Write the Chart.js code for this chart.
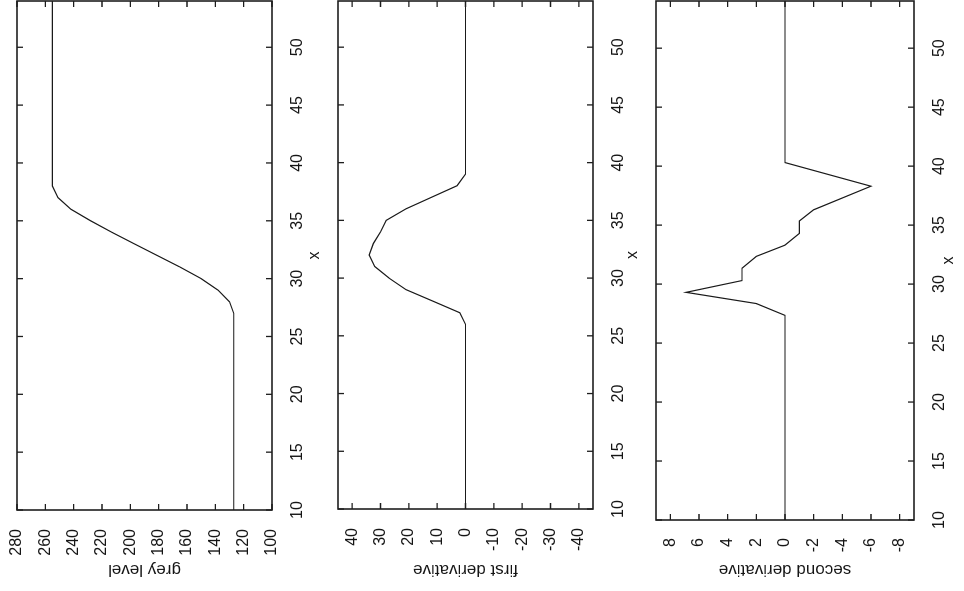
<!DOCTYPE html>
<html>
<head>
<meta charset="utf-8">
<script src="https://cdn.jsdelivr.net/npm/chart.js@4/dist/chart.umd.min.js"></script>
<style>
  html, body { margin: 0; padding: 0; background: #fff; overflow: hidden; }
  #page { position: absolute; left: 0; top: 0; width: 591px; height: 964px;
          transform-origin: 0 0; transform: translate(0px, 591px) rotate(-90deg); }
  canvas { position: absolute; left: 0; }
</style>
</head>
<body>
<div id="page">
  <canvas id="c1" width="591" height="330" style="top:0px"></canvas>
  <canvas id="c2" width="591" height="320" style="top:330px"></canvas>
  <canvas id="c3" width="591" height="314" style="top:650px"></canvas>
</div>
<script>
// ---- data ----
const xPos      = [10, 26, 27, 28, 29, 30, 31, 32, 33, 34, 35, 36, 37, 38, 39, 40, 54];
const greyLevel = [127, 127, 127, 130, 138, 150, 165, 181, 197, 213, 228, 242, 251, 255, 255, 255, 255];
const firstDeriv = [0, 0, 2, 11.5, 21, 27, 32, 34, 32.5, 30, 28, 21, 12, 3, 0, 0, 0];
const xPos2     = [10, 27.35, 28.35, 29.3, 30.3, 31.35, 32.35, 33.3, 34.3, 35.35, 36.3, 38.3, 40.3, 54];
const secondDeriv = [0, 0, 2, 6.9, 3, 3, 2, 0, -1, -1, -2, -6, 0, 0];

const xTicks      = [10, 15, 20, 25, 30, 35, 40, 45, 50];
const greyTicks   = [100, 120, 140, 160, 180, 200, 220, 240, 260, 280];
const firstTicks  = [-40, -30, -20, -10, 0, 10, 20, 30, 40];
const secondTicks = [-8, -6, -4, -2, 0, 2, 4, 6, 8];

Chart.defaults.font.family = '"Liberation Sans", Arial, Helvetica, sans-serif';
Chart.defaults.font.size = 16;
Chart.defaults.color = '#151515';

const frame = {
  id: 'frame',
  afterDatasetsDraw(chart) {
    const { ctx, chartArea: a, scales: { x, y } } = chart;
    ctx.save();
    ctx.strokeStyle = '#1e1e1e';
    ctx.lineWidth = 1.6;
    ctx.strokeRect(a.left, a.top, a.right - a.left, a.bottom - a.top);
    ctx.lineWidth = 1.3;
    ctx.beginPath();
    x.ticks.forEach(t => {
      const p = x.getPixelForValue(t.value);
      ctx.moveTo(p, a.bottom); ctx.lineTo(p, a.bottom - 6);
      ctx.moveTo(p, a.top); ctx.lineTo(p, a.top + 6);
    });
    y.ticks.forEach(t => {
      const p = y.getPixelForValue(t.value);
      ctx.moveTo(a.left, p); ctx.lineTo(a.left + 6, p);
      ctx.moveTo(a.right, p); ctx.lineTo(a.right - 6, p);
    });
    ctx.stroke();
    ctx.restore();
  }
};

function makeChart(id, xs, ys, cfg) {
  const data = xs.map((v, i) => ({ x: v, y: ys[i] }));
  return new Chart(document.getElementById(id), {
    type: 'scatter',
    data: { datasets: [{ data, showLine: true, borderColor: '#1a1a1a', borderWidth: 1.2,
                         pointRadius: 0, tension: 0, fill: false }] },
    options: {
      responsive: false, animation: false,
      layout: { padding: { top: cfg.padTop, right: 1, left: 0, bottom: 0 } },
      plugins: { legend: { display: false }, tooltip: { enabled: false } },
      scales: {
        x: {
          type: 'linear', position: 'bottom', min: 10, max: 54,
          grid: { display: false }, border: { display: false },
          afterBuildTicks: s => { s.ticks = xTicks.map(v => ({ value: v })); },
          afterFit: s => { s.height = cfg.xAxisH; s.paddingLeft = 0; s.paddingRight = 0; },
          ticks: { padding: 8, maxRotation: 0, minRotation: 0, autoSkip: false },
          title: { display: true, text: 'x', font: { size: 16 }, padding: { top: 0, bottom: cfg.xTitlePad } }
        },
        y: {
          type: 'linear', position: 'left', min: cfg.min, max: cfg.max,
          grid: { display: false }, border: { display: false },
          afterBuildTicks: s => { s.ticks = cfg.ticks.map(v => ({ value: v })); },
          afterFit: s => { s.width = cfg.yAxisW; s.paddingTop = 0; s.paddingBottom = 0; },
          ticks: { padding: cfg.yTickPad, autoSkip: false },
          title: { display: true, text: cfg.title, font: { size: 17 }, padding: { top: 11, bottom: 0 } }
        }
      }
    },
    plugins: [frame]
  });
}

makeChart('c1', xPos, greyLevel, { padTop: 17, xAxisH: 58, yAxisW: 81, min: 100, max: 280,
  ticks: greyTicks, title: 'grey level', xTitlePad: 6, yTickPad: 11 });
makeChart('c2', xPos, firstDeriv, { padTop: 8, xAxisH: 57, yAxisW: 82, min: -45, max: 45,
  ticks: firstTicks, title: 'first derivative', xTitlePad: 8, yTickPad: 11 });
makeChart('c3', xPos2, secondDeriv, { padTop: 6, xAxisH: 50, yAxisW: 71, min: -9, max: 9,
  ticks: secondTicks, title: 'second derivative', xTitlePad: 6, yTickPad: 10 });
</script>
</body>
</html>
